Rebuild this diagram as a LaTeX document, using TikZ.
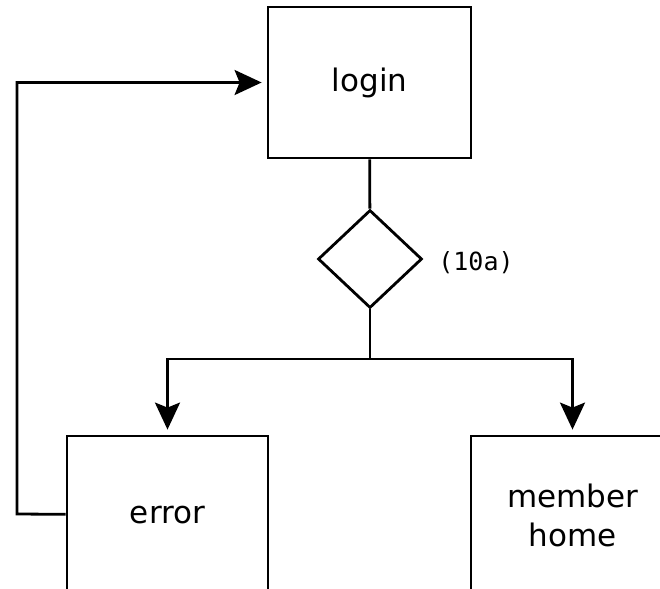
\documentclass[tikz,border=0pt]{standalone}
\usepackage{fontspec}
\setmainfont{DejaVu Sans}
\newfontfamily\labelmono{DejaVu Sans Mono}
\usetikzlibrary{shapes.geometric,arrows.meta}

\begin{document}
\begin{tikzpicture}[x=1pt,y=-1pt,line width=2.8pt,
  >={Stealth[length=27pt,width=25pt,inset=5pt]},shorten >=5pt]
  \tikzstyle{page}=[draw,rectangle,inner sep=0pt,minimum width=203pt,
    align=center,font=\fontsize{31}{39}\selectfont]
  \tikzstyle{check}=[draw,diamond,inner sep=0pt,minimum width=104pt,minimum height=98pt]
  \useasboundingbox (0,0) rectangle (660,588);
  \clip (0,0) rectangle (660,588);
  \node[page,minimum height=151pt] (login) at (369.5,82.5) {login};
  \node[check] (dec) at (370,259) {};
  \node[font=\labelmono\fontsize{25}{30}\selectfont] (tag) at (476,263) {(10a)};
  \node[page,minimum width=201pt,minimum height=158pt] (error) at (167.5,515) {error};
  \node[page,minimum height=158pt] (member) at (572.5,515) {member\\home};
  \coordinate (split) at (370,359);
  \coordinate (back) at (17,514);
  \draw[shorten >=0pt] (login) -- (dec);
  \draw[shorten >=0pt] (dec) -- (split);
  \draw[->] (split) -| (error);
  \draw[->] (split) -| (member);
  \draw[->] (error) -- (back) |- (login);
\end{tikzpicture}
\end{document}
